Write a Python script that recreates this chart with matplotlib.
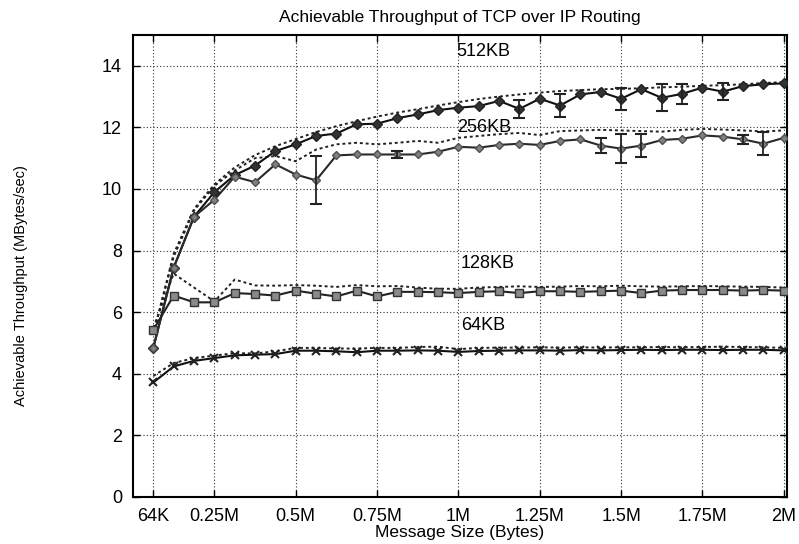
import numpy as np
import matplotlib
matplotlib.use("Agg")
import matplotlib.pyplot as plt

plt.rcParams["font.family"] = ["Liberation Sans", "DejaVu Sans"]

# message sizes: multiples of 64K, in MBytes
msg_k = np.arange(1, 33)
msg_mb = msg_k * 64 / 1024.0

tcp_512 = [4.85, 7.45, 9.1, 9.9, 10.45, 10.76, 11.23, 11.45, 11.72, 11.8, 12.1, 12.12,
           12.3, 12.42, 12.56, 12.64, 12.69, 12.86, 12.6, 12.93, 12.71, 13.07, 13.15,
           12.93, 13.24, 12.96, 13.09, 13.29, 13.16, 13.34, 13.4, 13.43]
err_512 = [0, 0, 0, 0, 0, 0, 0, 0, 0, 0, 0, 0, 0, 0, 0, 0, 0, 0, 0.28, 0, 0.37, 0,
           0, 0.35, 0, 0.44, 0.33, 0, 0.28, 0, 0, 0]
ref_512 = [5.3, 7.9, 9.35, 10.15, 10.7, 11.1, 11.39, 11.62, 11.85, 12.04, 12.2, 12.35,
           12.48, 12.59, 12.71, 12.82, 12.92, 13.0, 13.07, 13.13, 13.18, 13.21, 13.24,
           13.25, 13.27, 13.3, 13.32, 13.35, 13.37, 13.4, 13.44, 13.47]

tcp_256 = [4.85, 7.45, 9.1, 9.65, 10.4, 10.22, 10.8, 10.47, 10.28, 11.09, 11.12, 11.12,
           11.12, 11.12, 11.21, 11.37, 11.34, 11.43, 11.47, 11.43, 11.56, 11.61, 11.41,
           11.31, 11.41, 11.59, 11.63, 11.74, 11.7, 11.61, 11.47, 11.66]
err_256 = [0, 0, 0, 0, 0, 0, 0, 0, 0.78, 0, 0, 0, 0.1, 0, 0, 0, 0, 0, 0, 0, 0, 0,
           0.24, 0.46, 0.37, 0, 0, 0, 0, 0.15, 0.38, 0]
ref_256 = [5.3, 7.8, 9.3, 10.1, 10.6, 11.0, 11.07, 10.9, 11.28, 11.45, 11.5, 11.45,
           11.5, 11.56, 11.5, 11.66, 11.72, 11.78, 11.82, 11.75, 11.88, 11.9, 11.92,
           11.9, 11.88, 11.86, 11.92, 11.95, 11.93, 11.9, 11.87, 11.9]

tcp_128 = [5.43, 6.54, 6.32, 6.32, 6.62, 6.59, 6.54, 6.7, 6.6, 6.51, 6.7, 6.51, 6.66,
           6.66, 6.65, 6.62, 6.66, 6.68, 6.62, 6.68, 6.68, 6.66, 6.68, 6.7, 6.62, 6.7,
           6.72, 6.72, 6.72, 6.7, 6.72, 6.7]
ref_128 = [5.5, 7.25, 6.8, 6.35, 7.06, 6.87, 6.86, 6.88, 6.86, 6.82, 6.88, 6.84, 6.85,
           6.8, 6.76, 6.76, 6.8, 6.82, 6.84, 6.82, 6.83, 6.85, 6.84, 6.86, 6.84, 6.83,
           6.84, 6.85, 6.84, 6.83, 6.82, 6.8]

tcp_64 = [3.72, 4.24, 4.42, 4.51, 4.6, 4.62, 4.64, 4.75, 4.75, 4.73, 4.7, 4.75, 4.75,
          4.76, 4.75, 4.71, 4.74, 4.75, 4.76, 4.76, 4.75, 4.77, 4.76, 4.77, 4.78, 4.77,
          4.78, 4.78, 4.77, 4.78, 4.78, 4.76]
ref_64 = [3.93, 4.35, 4.51, 4.59, 4.67, 4.66, 4.73, 4.84, 4.84, 4.82, 4.82, 4.84, 4.84,
          4.87, 4.88, 4.8, 4.84, 4.85, 4.85, 4.86, 4.85, 4.86, 4.85, 4.86, 4.86, 4.87,
          4.86, 4.87, 4.88, 4.87, 4.86, 4.84]

xtick_pos = [64 / 1024.0, 0.25, 0.5, 0.75, 1.0, 1.25, 1.5, 1.75, 2.0]
xtick_lab = ["64K", "0.25M", "0.5M", "0.75M", "1M", "1.25M", "1.5M", "1.75M", "2M"]

series = [
    ("512KB", tcp_512, err_512, ref_512, dict(marker="D", ms=5, mfc="#333333", mec="#222222", color="#111111")),
    ("256KB", tcp_256, err_256, ref_256, dict(marker="D", ms=4.5, mfc="#808080", mec="#505050", color="#2a2a2a")),
    ("128KB", tcp_128, None, ref_128, dict(marker="s", ms=6, mfc="#8a8a8a", mec="#333333", color="#222222")),
    ("64KB", tcp_64, None, ref_64, dict(marker="x", ms=6, mfc="none", mec="#222222", mew=1.5, color="#111111")),
]
label_pos = {"512KB": 14.45, "256KB": 12.0, "128KB": 7.58, "64KB": 5.56}

fig = plt.figure(figsize=(7.99, 5.44), dpi=100)
ax = fig.add_axes([0.1665, 0.0864, 0.8185, 0.8493])

for name, vals, err, ref, style in series:
    ax.plot(msg_mb, ref, linestyle=(0, (1.5, 1.5)), color="#222222", lw=1.4, zorder=2)
    ax.plot(msg_mb, vals, linestyle="-", lw=1.5, zorder=3, **style)
    if err is not None:
        err = np.array(err)
        m = err > 0
        ax.errorbar(msg_mb[m], np.array(vals)[m], yerr=err[m], fmt="none",
                    ecolor="#222222", elinewidth=1.3, capsize=4, capthick=1.5, zorder=4)
    ax.text(0.995 if name in ("512KB", "256KB") else 1.007, label_pos[name], name,
            fontsize=13, ha="left", va="center", zorder=5)

ax.set_xlim(0, 2.01)
ax.set_ylim(0, 15)
ax.set_xticks(xtick_pos)
ax.set_xticklabels(xtick_lab)
ax.set_yticks(range(0, 15, 2))
ax.tick_params(direction="in", top=True, right=True, labelsize=13, length=5, width=1)
ax.tick_params(axis="x", pad=8)
ax.tick_params(axis="y", pad=8)
ax.grid(True, linestyle=(0, (1, 2)), color="#333333", lw=0.8)
for s in ax.spines.values():
    s.set_linewidth(1.5)

ax.set_title("Achievable Throughput of TCP over IP Routing", fontsize=12.5, pad=9)
ax.set_xlabel("Message Size (Bytes)", fontsize=12.5, labelpad=0)
ax.set_ylabel("Achievable Throughput (MBytes/sec)", fontsize=10.5)
ax.yaxis.set_label_coords(-0.16, 0.457)

fig.savefig("out.png", dpi=100)
